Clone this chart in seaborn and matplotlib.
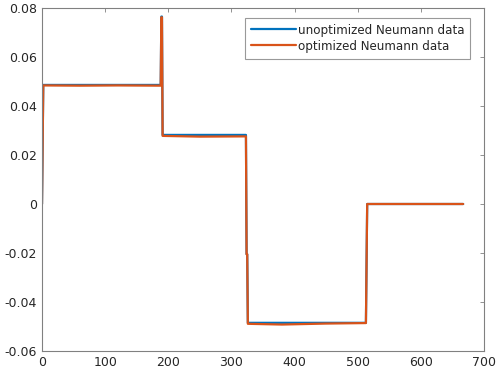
import numpy as np
import matplotlib
matplotlib.use('Agg')
import matplotlib.pyplot as plt
import seaborn as sns
import pandas as pd

# punkty załamania sygnału
x_unopt = [0, 2, 188, 189, 190, 191, 323, 324, 325, 326, 513, 515, 667]
y_unopt = [0, 0.0486, 0.0486, 0.0765, 0.0765, 0.0282, 0.0282, -0.0205, -0.0205, -0.0485, -0.0485, 0.0, 0.0]

x_opt = [0, 2, 60, 120, 188, 189, 190, 191, 250, 323, 324, 325, 326, 380, 450, 513, 515, 667]
y_opt = [0, 0.0484, 0.0483, 0.0484, 0.0483, 0.0762, 0.0762, 0.0278, 0.0275, 0.0276, -0.0205, -0.0205, -0.0489, -0.0492, -0.0488, -0.0486, 0.0, 0.0]

labels = ['unoptimized Neumann data', 'optimized Neumann data']
xticks = [0, 100, 200, 300, 400, 500, 600, 700]
yticks = [-0.06, -0.04, -0.02, 0, 0.02, 0.04, 0.06, 0.08]
ytick_labels = ['-0.06', '-0.04', '-0.02', '0', '0.02', '0.04', '0.06', '0.08']

sns.set_style('white')
plt.rcParams['font.family'] = ['DejaVu Sans']

fig = plt.figure(figsize=(4.98, 3.72), dpi=100)
ax = fig.add_axes([42 / 498, 21 / 372, 442 / 498, 343 / 372])

df_u = pd.DataFrame({'x': x_unopt, 'y': y_unopt})
df_o = pd.DataFrame({'x': x_opt, 'y': y_opt})
sns.lineplot(data=df_u, x='x', y='y', sort=False, estimator=None, color='#0072BD', lw=1.6, label=labels[0], ax=ax)
sns.lineplot(data=df_o, x='x', y='y', sort=False, estimator=None, color='#D95319', lw=1.6, label=labels[1], ax=ax)

ax.set_xlim(0, 700)
ax.set_ylim(-0.06, 0.08)
ax.set_xticks(xticks)
ax.set_yticks(yticks)
ax.set_yticklabels(ytick_labels)
ax.set_xlabel('')
ax.set_ylabel('')

for s in ax.spines.values():
    s.set_color('#808080')
    s.set_linewidth(0.8)
ax.tick_params(direction='in', length=3, width=0.6, colors='#808080', labelcolor='#262626',
               labelsize=9, top=True, right=True)

leg = ax.legend(loc='upper right', bbox_to_anchor=(0.969, 0.972), fontsize=8.6, frameon=True,
                fancybox=False, handlelength=3.8, handletextpad=0.15, borderpad=0.5,
                labelspacing=0.25, borderaxespad=0)
leg.get_frame().set_edgecolor('#808080')
leg.get_frame().set_linewidth(0.8)

fig.savefig('out.png', dpi=100)
